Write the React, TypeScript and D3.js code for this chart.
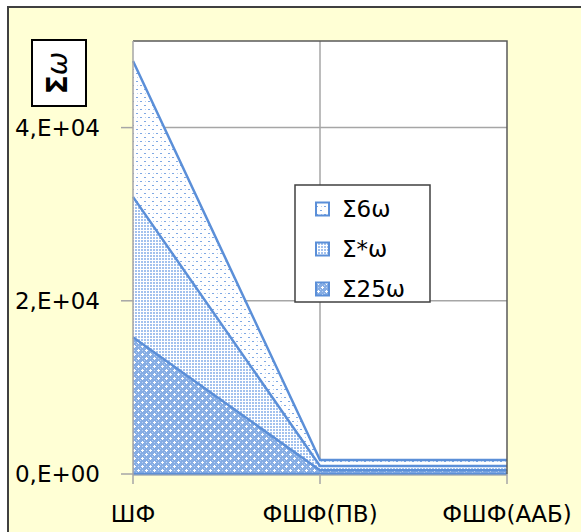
import React from "react";
import * as d3 from "d3";

const categories = ["ШФ", "ФШФ(ПВ)", "ФШФ(ААБ)"];
const seriesNames = ["Σ25ω", "Σ*ω", "Σ6ω"];
const s25 = [15800, 420, 420];
const sStar = [16200, 500, 500];
const s6 = [15700, 700, 700];
const yTicks = [0, 20000, 40000];
const yTickLabels = ["0,E+00", "2,E+04", "4,E+04"];
const legendOrder = ["Σ6ω", "Σ*ω", "Σ25ω"];

const W = 581, H = 532;
const left = 133, right = 507, top = 41, bottom = 474;
const lineColor = "#5B8FD8";
const font = "'DejaVu Sans', sans-serif";

export default function App() {
  const x = d3.scalePoint<string>().domain(categories).range([left, right]);
  const y = d3.scaleLinear().domain([0, 50000]).range([bottom, top]);
  const rows = categories.map((c, i) => ({ cat: c, "Σ25ω": s25[i], "Σ*ω": sStar[i], "Σ6ω": s6[i] }));
  const stacked = d3.stack<any>().keys(seriesNames)(rows);
  const area = d3.area<any>().x((d) => x(d.data.cat)!).y0((d) => y(d[0])).y1((d) => y(d[1]));
  const line = d3.line<any>().x((d) => x(d.data.cat)!).y((d) => y(d[1]));
  const patId: Record<string, string> = { "Σ6ω": "p6", "Σ*ω": "pStar", "Σ25ω": "p25" };

  return (
    <svg width={W} height={H} style={{ position: "absolute", left: 0, top: 0 }}>
      <defs>
        <pattern id="p6" width="8" height="8" patternUnits="userSpaceOnUse">
          <rect width="8" height="8" fill="#fff" />
          <rect x="0" y="1" width="2" height="1" fill="#7EA8E4" />
          <rect x="4" y="5" width="2" height="1" fill="#7EA8E4" />
          <rect x="1" y="5" width="1" height="1" fill="#B8D0F2" />
        </pattern>
        <pattern id="pStar" width="3" height="3" patternUnits="userSpaceOnUse">
          <rect width="3" height="3" fill="#fff" />
          <rect width="2" height="2" fill="#A3C2EE" />
        </pattern>
        <pattern id="p25" width="8" height="8" patternUnits="userSpaceOnUse">
          <rect width="8" height="8" fill="#86ADE4" />
          <rect x="0" y="0" width="1" height="1" fill="#B7CFF2" />
          <rect x="2" y="2" width="1" height="1" fill="#B7CFF2" />
          <rect x="4" y="4" width="1" height="1" fill="#B7CFF2" />
          <rect x="6" y="6" width="1" height="1" fill="#B7CFF2" />
          <rect x="1" y="6" width="3" height="1" fill="#fff" />
          <rect x="2" y="5" width="1" height="3" fill="#fff" />
          <rect x="5" y="2" width="3" height="1" fill="#fff" />
          <rect x="6" y="1" width="1" height="3" fill="#fff" />
        </pattern>
      </defs>
      <rect x={0} y={0} width={W} height={H} fill="#fff" />
      <rect x={8} y={7} width={W + 20} height={H + 20} fill="#FFFFD5" stroke="#404040" strokeWidth={2} />
      <rect x={left} y={top} width={right - left} height={bottom - top} fill="#fff" />
      {yTicks.filter((t) => t > 0).map((t) => (
        <line key={t} x1={left} x2={right} y1={y(t)} y2={y(t)} stroke="#A6A6A6" strokeWidth={1.5} />
      ))}
      {categories.slice(1, -1).map((c) => (
        <line key={c} x1={x(c)} x2={x(c)} y1={top} y2={bottom} stroke="#A6A6A6" strokeWidth={1.5} />
      ))}
      {stacked.map((s) => (
        <path key={s.key} d={area(s as any)!} fill={`url(#${patId[s.key]})`} />
      ))}
      {stacked.map((s) => (
        <path key={s.key + "l"} d={line(s as any)!} fill="none" stroke={lineColor} strokeWidth={2.5} />
      ))}
      <line x1={left} x2={right} y1={bottom} y2={bottom} stroke={lineColor} strokeWidth={2.5} />
      <path d={`M${left},${top}H${right}V${bottom}`} fill="none" stroke="#595959" strokeWidth={1.5} />
      <line x1={left} x2={left} y1={top} y2={bottom} stroke="#A6A6A6" strokeWidth={1.5} />
      <line x1={left} x2={right} y1={bottom + 1} y2={bottom + 1} stroke="#A6A6A6" strokeWidth={1} />
      {yTicks.map((t, i) => (
        <g key={t}>
          <line x1={left - 12} x2={left} y1={y(t)} y2={y(t)} stroke="#A6A6A6" strokeWidth={1.5} />
          <text x={100} y={y(t)} dy="0.36em" textAnchor="end" fontFamily={font} fontSize={23} fill="#000">
            {yTickLabels[i]}
          </text>
        </g>
      ))}
      {categories.map((c) => (
        <g key={c}>
          <line x1={x(c)} x2={x(c)} y1={bottom} y2={bottom + 10} stroke="#A6A6A6" strokeWidth={1.5} />
          <text x={x(c)} y={522} textAnchor="middle" fontFamily={font} fontSize={23} fill="#000">
            {c}
          </text>
        </g>
      ))}
      <rect x={32} y={40} width={54} height={66} fill="#fff" stroke="#000" strokeWidth={2} />
      <g transform="translate(67,73) rotate(-90)">
        <text textAnchor="middle" fontFamily="'DejaVu Sans', sans-serif" fontSize={28} fill="#000">
          <tspan fontWeight="bold">Σ</tspan>
          <tspan fontStyle="italic">ω</tspan>
        </text>
      </g>
      <rect x={295} y={185} width={135} height={117} fill="#fff" stroke="#404040" strokeWidth={1.5} />
      {legendOrder.map((n, i) => (
        <g key={n} transform={`translate(0,${209 + i * 40})`}>
          <rect x={316} y={-6.5} width={13} height={13} fill={`url(#${patId[n]})`} stroke={lineColor} strokeWidth={2} />
          <text x={342} y={0} dy="0.36em" fontFamily={font} fontSize={23} fill="#000">
            {n}
          </text>
        </g>
      ))}
    </svg>
  );
}
